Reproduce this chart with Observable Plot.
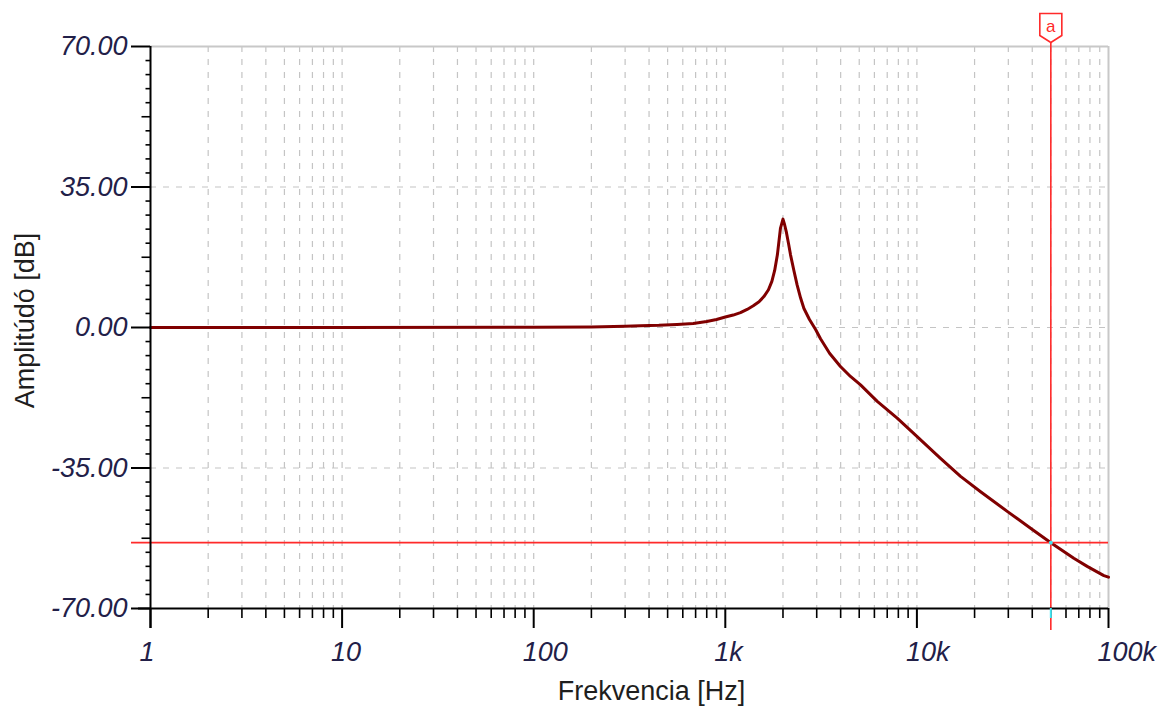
<!DOCTYPE html>
<html><head><meta charset="utf-8">
<script src="https://cdn.jsdelivr.net/npm/d3@7"></script>
<script src="https://cdn.jsdelivr.net/npm/@observablehq/plot@0.6"></script>
<style>
html,body{margin:0;padding:0;background:#fff}
#chart svg{display:block}
</style>
</head><body><div id="chart"></div>
<script>
// ---- data ----
const freqHz = [1, 10, 100, 200, 300, 360, 450, 560, 680, 800, 900, 1000, 1100, 1200, 1300, 1400, 1500, 1590, 1680, 1750, 1810, 1870, 1940, 2000, 2040, 2080, 2140, 2190, 2280, 2370, 2470, 2570, 2750, 2960, 3140, 3500, 3990, 4500, 5080, 6210, 7890, 10030, 13280, 16900, 21500, 29600, 39200, 50000, 65900, 77400, 94600, 100000];
const amplitudeDb = [0, 0, 0.05, 0.15, 0.3, 0.45, 0.55, 0.75, 1.0, 1.5, 2.0, 2.6, 3.1, 3.7, 4.5, 5.4, 6.4, 7.7, 9.4, 11.5, 14.2, 18.1, 24.7, 27.0, 25.6, 23.9, 20.8, 18.1, 14.2, 10.6, 7.4, 4.8, 2.0, -0.5, -2.8, -6.4, -9.7, -12.2, -14.3, -18.4, -22.6, -27.2, -32.6, -37.1, -40.9, -45.8, -50.0, -53.6, -57.5, -59.5, -61.8, -62.2];

const xMajorTicks = [1, 10, 100, 1000, 10000, 100000];
const xMajorLabels = ["1", "10", "100", "1k", "10k", "100k"];
const xMinorTicks = [2,3,4,5,6,7,8,9, 20,30,40,50,60,70,80,90, 200,300,400,500,600,700,800,900, 2000,3000,4000,5000,6000,7000,8000,9000, 20000,30000,40000,50000,60000,70000,80000,90000];
const xGridDecades = [10, 100, 1000, 10000];

const yMajorTicks = [70, 35, 0, -35, -70];
const yTickLabels = ["70.00", "35.00", "0.00", "-35.00", "-70.00"];
const yMinorTicks = [66.5,63,59.5,56,49,45.5,42,38.5, 31.5,28,24.5,21,14,10.5,7,3.5, -3.5,-7,-10.5,-14,-21,-24.5,-28,-31.5, -38.5,-42,-45.5,-49,-56,-59.5,-63,-66.5];
const yMidTicks = [52.5, 17.5, -17.5, -52.5];
const yGridTicks = [35, 0, -35];

const cursorFreq = 50000;
const cursorDb = -53.6;
const cursorName = "a";

const xTitle = "Frekvencia [Hz]";
const yTitle = "Amplitúdó [dB]";

// ---- styles ----
const FONT = "'Liberation Sans', Arial, sans-serif";
const labelColor = "#222048";
const gridColor = "#c4c4c4";
const curveColor = "#800000";
const cursorColor = "#ff2a2a";

const data = freqHz.map((f, i) => ({f, db: amplitudeDb[i]}));

const pentagon = {
  draw(ctx) {
    ctx.moveTo(-11, -14);
    ctx.lineTo(11, -14);
    ctx.lineTo(11, 8);
    ctx.lineTo(0, 15);
    ctx.lineTo(-11, 8);
    ctx.closePath();
  }
};

try {
const chart = Plot.plot({
  width: 1167,
  height: 706,
  marginLeft: 150,
  marginRight: 59,
  marginTop: 46,
  marginBottom: 98,
  style: {background: "white", fontFamily: FONT, overflow: "visible"},
  x: {type: "log", domain: [1, 100000]},
  y: {domain: [-70, 70]},
  marks: [
    // grid
    Plot.ruleX(xMinorTicks.concat(xGridDecades), {x: d => d, stroke: gridColor, strokeWidth: 1.2, strokeDasharray: "6,7"}),
    Plot.ruleY(yGridTicks, {y: d => d, stroke: gridColor, strokeWidth: 1.2, strokeDasharray: "6,7"}),
    // frame borders (top / right)
    Plot.ruleY([70], {y: d => d, stroke: "#c8c8c8", strokeWidth: 2}),
    Plot.ruleX([100000], {x: d => d, stroke: "#c8c8c8", strokeWidth: 2}),
    // curve
    Plot.line(data, {x: "f", y: "db", stroke: curveColor, strokeWidth: 3, strokeLinejoin: "round"}),
    // cursor
    Plot.ruleY([cursorDb], {y: d => d, stroke: cursorColor, strokeWidth: 1.6, insetLeft: -19}),
    Plot.ruleX([cursorFreq], {x: d => d, stroke: cursorColor, strokeWidth: 1.6, insetTop: -4, insetBottom: -22}),
    // axis lines
    Plot.ruleX([1], {x: d => d, stroke: "black", strokeWidth: 2, insetBottom: -20}),
    Plot.ruleY([-70], {y: d => d, stroke: "black", strokeWidth: 2, insetLeft: -12}),
    // ticks
    Plot.axisX({ticks: xMajorTicks, tickSize: 20, strokeWidth: 2, stroke: "black", fill: "none", label: null}),
    Plot.axisX({ticks: xMinorTicks, tickSize: 10, strokeWidth: 1.6, stroke: "black", fill: "none", label: null}),
    Plot.axisY({ticks: yMajorTicks, tickSize: 19, strokeWidth: 2, stroke: "black", fill: "none", label: null}),
    Plot.axisY({ticks: yMinorTicks, tickSize: 4.5, strokeWidth: 1.6, stroke: "black", fill: "none", label: null}),
    Plot.axisY({ticks: yMidTicks, tickSize: 8.5, strokeWidth: 1.6, stroke: "black", fill: "none", label: null}),
    // cyan cursor indicators
    Plot.ruleX([cursorFreq], {x: d => d, y1: () => -70, y2: () => -70, insetBottom: -10, stroke: "#3fe6f2", strokeWidth: 2}),
    Plot.dot([{f: cursorFreq, db: cursorDb}], {x: "f", y: "db", r: 2, fill: "#3fe6f2"}),
    // cursor marker
    Plot.dot([cursorFreq], {x: d => d, frameAnchor: "top", dy: -19, symbol: pentagon, r: 5, fill: "white", stroke: cursorColor, strokeWidth: 1.6}),
    Plot.text([cursorFreq], {x: d => d, frameAnchor: "top", dy: -20, text: () => cursorName, fill: cursorColor, fontSize: 17, lineAnchor: "middle", fontFamily: FONT}),
    // tick labels
    Plot.text(yMajorTicks, {y: d => d, frameAnchor: "left", dx: -23, text: (d, i) => yTickLabels[i], textAnchor: "end", lineAnchor: "middle", fontSize: 27, fontStyle: "italic", fill: labelColor, fontFamily: FONT}),
    Plot.text(xMajorTicks, {x: d => d, frameAnchor: "bottom", dy: 52, dx: -11, text: (d, i) => xMajorLabels[i], textAnchor: "start", lineAnchor: "bottom", fontSize: 27, fontStyle: "italic", fill: labelColor, fontFamily: FONT}),
    // axis titles
    Plot.text([xTitle], {frameAnchor: "bottom", dx: 22, dy: 91, text: d => d, lineAnchor: "bottom", textAnchor: "middle", fontSize: 27, fill: "#1e1e1e", fontFamily: FONT}),
    Plot.text([yTitle], {frameAnchor: "left", dx: -117, dy: -7, rotate: -90, text: d => d, lineAnchor: "bottom", textAnchor: "middle", fontSize: 27, fill: "#1e1e1e", fontFamily: FONT})
  ]
});
document.getElementById("chart").appendChild(chart);
} catch (e) {
  document.body.innerHTML = "<pre>" + e + "\n" + e.stack + "</pre>";
}
</script>
</body></html>
